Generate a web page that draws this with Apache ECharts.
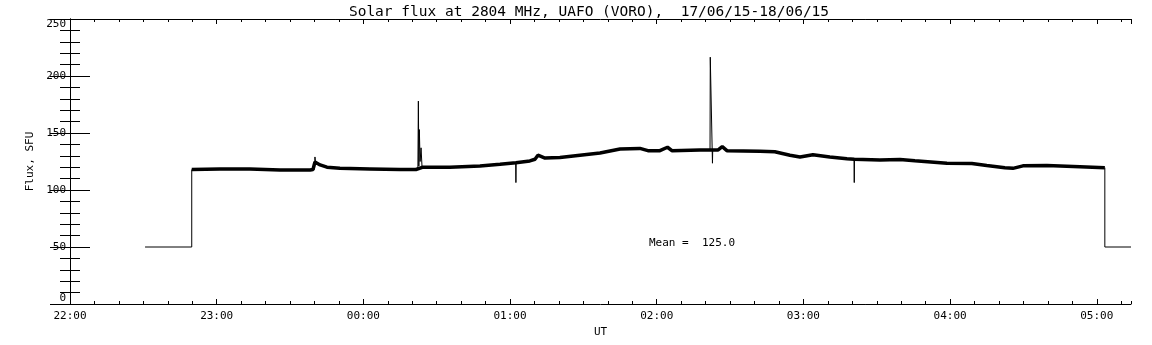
<!DOCTYPE html>
<html>
<head>
<meta charset="utf-8">
<script src="https://cdn.jsdelivr.net/npm/echarts@6/dist/echarts.min.js"></script>
<style>
  html, body { margin: 0; padding: 0; background: #fff; }
  #chart { width: 1152px; height: 345px; }
</style>
</head>
<body>
<div id="chart"></div>
<script>
// time in minutes after 22:00 UT, flux in SFU
const traceTime = [49.8, 61.3, 73.6, 85.9, 98.2, 99.4, 100.2, 102.3, 105.1, 110.4, 122.7, 135, 141.5,
  144.4, 155.4, 167.7, 175.9, 182.4, 188.1, 190.2, 191.4, 194.3, 200.4, 208.6, 216.8, 225, 233.1,
  236.4, 241.3, 244.4, 246.2, 257.7, 265, 266.8, 268.7, 282.2, 288.3, 294.5, 298.6, 303.9, 310.8,
  317.8, 320.8, 331.3, 339.5, 345.6, 358.7, 368.9, 375, 382.4, 385.7, 389.8, 399.6, 413.1, 423.3];
const traceFlux = [118, 118.5, 118.5, 117.5, 117.5, 118, 124.5, 122, 120, 119, 118.5, 118, 118,
  120, 120, 121, 122.5, 124, 125.5, 127, 130.5, 128, 128.5, 130.5, 132.5, 136, 136.5,
  134.5, 134.5, 137.5, 134.5, 135, 135, 138, 134.5, 134, 133.5, 130.5, 129, 131, 129,
  127.5, 127, 126.3, 126.8, 125.7, 123.4, 123.2, 121.4, 119.5, 119, 121.2, 121.4, 120.5, 119.6];

// thin parts: calibration steps at start/end
const stepStartTime = [30.7, 49.8, 49.8];
const stepStartFlux = [50, 50, 118];
const stepEndTime = [423.3, 423.3, 434];
const stepEndFlux = [119.6, 50, 50];

// short spikes (base, peak, base)
const spikeTime = [100.0, 100.2, 100.5, 142.3, 142.5, 142.7, 142.9, 143.2, 143.6, 144.0,
  182.3, 182.4, 182.5, 261.8, 261.9, 262.8, 262.9, 320.7, 320.8, 320.9];
const spikeFlux = [118, 129, 123, 118, 178, 121, 153, 125, 137, 120,
  124, 106.5, 124, 135, 216.5, 123.5, 135, 127, 106.5, 127];
const spikeBreaks = [2, 9, 12, 16]; // index after which the line is broken

const meanValue = 125.0;

const pairs = (xs, ys) => xs.map((x, i) => [x, ys[i]]);
const spikeData = [];
spikeTime.forEach((t, i) => {
  spikeData.push([t, spikeFlux[i]]);
  if (spikeBreaks.includes(i)) spikeData.push([t, '-']);
});

const fmtTime = (m) => {
  const h = (22 + Math.floor(m / 60)) % 24;
  const mm = Math.round(m % 60);
  return String(h).padStart(2, '0') + ':' + String(mm).padStart(2, '0');
};

const font = 'DejaVu Sans Mono';
const black = '#000';

const xBase = {
  type: 'value', min: 0, max: 434, gridIndex: 0,
  splitLine: { show: false },
};

const chart = echarts.init(document.getElementById('chart'), null, { renderer: 'canvas' });
chart.setOption({
  animation: false,
  backgroundColor: '#fff',
  title: {
    text: 'Solar flux at 2804 MHz, UAFO (VORO),  17/06/15-18/06/15',
    left: 584, top: 0, textAlign: 'center',
    textStyle: { fontFamily: font, fontSize: 14.5, fontWeight: 'normal', color: black },
  },
  grid: { left: 70, top: 19, right: 21, bottom: 41, containLabel: false },
  xAxis: [
    Object.assign({}, xBase, {
      position: 'bottom', interval: 60,
      name: 'UT', nameLocation: 'middle', nameGap: 19,
      nameTextStyle: { fontFamily: font, fontSize: 11, color: black },
      axisLine: { show: true, lineStyle: { color: black, width: 1 } },
      axisTick: { show: true, inside: true, length: 5, lineStyle: { color: black } },
      axisLabel: { show: true, margin: 7, showMaxLabel: false, formatter: fmtTime,
        fontFamily: font, fontSize: 11, color: black },
    }),
    Object.assign({}, xBase, {
      position: 'bottom', interval: 10,
      axisLine: { show: false },
      axisTick: { show: true, inside: true, length: 3, lineStyle: { color: black } },
      axisLabel: { show: false },
    }),
    Object.assign({}, xBase, {
      position: 'top', interval: 60,
      axisLine: { show: true, lineStyle: { color: black, width: 1 } },
      axisTick: { show: true, inside: true, length: 5, lineStyle: { color: black } },
      axisLabel: { show: false },
    }),
    Object.assign({}, xBase, {
      position: 'top', interval: 10,
      axisLine: { show: false },
      axisTick: { show: true, inside: true, length: 3, lineStyle: { color: black } },
      axisLabel: { show: false },
    }),
  ],
  yAxis: [
    {
      type: 'value', min: 0, max: 250, interval: 50, position: 'left',
      name: 'Flux, SFU', nameLocation: 'middle', nameGap: 28,
      nameTextStyle: { fontFamily: font, fontSize: 11, color: black },
      splitLine: { show: false },
      axisLine: { show: true, lineStyle: { color: black, width: 1 } },
      axisTick: { show: true, inside: true, length: 20, lineStyle: { color: black } },
      minorTick: { show: true, splitNumber: 5, length: 10, lineStyle: { color: black } },
      axisLabel: { margin: 4, fontFamily: font, fontSize: 11, color: black,
        verticalAlignMinLabel: 'bottom', verticalAlignMaxLabel: 'top' },
    },
    {
      type: 'value', min: 0, max: 250, interval: 50, position: 'right',
      splitLine: { show: false },
      axisLine: { show: true, lineStyle: { color: black, width: 1 } },
      axisTick: { show: true, inside: true, length: 20, lineStyle: { color: black } },
      minorTick: { show: true, splitNumber: 5, length: 10, lineStyle: { color: black } },
      axisLabel: { show: false },
    },
  ],
  series: [
    {
      type: 'line', xAxisIndex: 0, yAxisIndex: 0, showSymbol: false, silent: true,
      data: pairs(traceTime, traceFlux),
      lineStyle: { color: black, width: 3.5 },
    },
    {
      type: 'line', xAxisIndex: 0, yAxisIndex: 0, showSymbol: false, silent: true,
      data: pairs(stepStartTime, stepStartFlux),
      lineStyle: { color: black, width: 1 },
    },
    {
      type: 'line', xAxisIndex: 0, yAxisIndex: 0, showSymbol: false, silent: true,
      data: pairs(stepEndTime, stepEndFlux),
      lineStyle: { color: black, width: 1 },
    },
    {
      type: 'line', xAxisIndex: 0, yAxisIndex: 0, showSymbol: false, silent: true,
      connectNulls: false,
      data: spikeData,
      lineStyle: { color: black, width: 1 },
    },
  ],
  graphic: [
    {
      type: 'text', left: 649, top: 238,
      style: { text: 'Mean =  ' + meanValue.toFixed(1), font: '11px "DejaVu Sans Mono"', fill: black },
    },
  ],
});
window.addEventListener('resize', () => chart.resize());
</script>
</body>
</html>
